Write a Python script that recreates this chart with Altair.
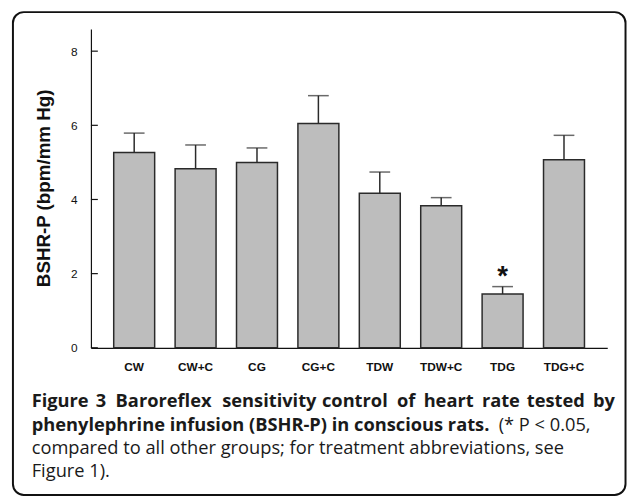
import altair as alt
import pandas as pd

groups = ["CW", "CW+C", "CG", "CG+C", "TDW", "TDW+C", "TDG", "TDG+C"]
means = [5.27, 4.83, 5.00, 6.05, 4.17, 3.83, 1.45, 5.07]
err_top = [5.79, 5.47, 5.39, 6.80, 4.74, 4.05, 1.65, 5.73]
marks = ["", "", "", "", "", "", "*", ""]
y_ticks = [0, 2, 4, 6, 8]

caption_line1_words = ["Figure", "3", "Baroreflex", "sensitivity", "control", "of",
                       "heart", "rate", "tested", "by"]
caption_line1_x = [-60, 5, 25, 133, 234, 310, 337, 396, 441.5, 508.5]
caption_line2_bold = "phenylephrine infusion (BSHR-P) in conscious rats."
caption_line2_norm = "(* P < 0.05,"
caption_line3 = "compared to all other groups; for treatment abbreviations, see"
caption_line4 = "Figure 1)."

df = pd.DataFrame({"group": groups, "mean": means, "top": err_top, "mark": marks})
ticks_df = pd.DataFrame({"v": y_ticks})
one = pd.DataFrame({"a": [0]})
words_df = pd.DataFrame({"w": caption_line1_words, "px": caption_line1_x})

W, H = 523, 323
FONT = "Liberation Sans"
CAP_FONT = "Open Sans"
CAP_SIZE = 18.5

xscale = alt.Scale(domain=groups, paddingInner=0.333, paddingOuter=0.371)
yscale = alt.Scale(domain=[0, 8.6], nice=False, zero=True)

x_enc = alt.X("group:N", scale=xscale, sort=groups,
              axis=alt.Axis(title=None, ticks=False, labelAngle=0, labelPadding=14,
                            labelFont=FONT, labelFontSize=12, labelFontWeight="bold",
                            labelColor="#111", domainColor="#111", domainWidth=1.2))
y_enc = alt.Y("mean:Q", scale=yscale,
              axis=alt.Axis(title="BSHR-P (bpm/mm Hg)", values=y_ticks, ticks=False, grid=False,
                            labelPadding=14, labelFont=FONT, labelFontSize=12, labelColor="#111",
                            domainColor="#111", domainWidth=1.2,
                            titleFont=FONT, titleFontSize=19, titleFontWeight="bold",
                            titleColor="#111", titleAngle=270, titleX=-48, titleY=161,
                            titleAlign="center", titleBaseline="middle"))

x_plain = alt.X("group:N", scale=xscale, sort=groups)

frame = alt.Chart(one).mark_rect(fill="white", fillOpacity=0, stroke="#111",
                                 strokeWidth=2, cornerRadius=11).encode(
    x=alt.value(-79), x2=alt.value(541.5), y=alt.value(-17), y2=alt.value(472))

bars = alt.Chart(df).mark_bar(color="#bdbdbd", stroke="#2a2a2a", strokeWidth=1.5).encode(
    x=x_enc, y=y_enc)

err_rule = alt.Chart(df).mark_rule(color="#2a2a2a", strokeWidth=1.5).encode(
    x=x_plain, y=alt.Y("mean:Q", scale=yscale), y2="top:Q")

err_cap = alt.Chart(df).mark_tick(color="#2a2a2a", thickness=1.5, size=21, orient="horizontal").encode(
    x=x_plain, y=alt.Y("top:Q", scale=yscale))

star = alt.Chart(df).mark_text(font=FONT, fontSize=28, fontWeight="bold", color="#111",
                               baseline="alphabetic", dy=-2).encode(
    x=x_plain, y=alt.Y("top:Q", scale=yscale), text="mark:N")

yt = alt.Chart(ticks_df).mark_rule(color="#111", strokeWidth=1.2).encode(
    y=alt.Y("v:Q", scale=yscale), x=alt.value(0), x2=alt.value(7))


def cap(txt, x, y, bold):
    return alt.Chart(one).mark_text(font=CAP_FONT, fontSize=CAP_SIZE,
                                    fontWeight="bold" if bold else "normal",
                                    color="#1a1a1a", align="left", baseline="alphabetic").encode(
        x=alt.value(x), y=alt.value(y), text=alt.value(txt))


line1 = alt.Chart(words_df).mark_text(font=CAP_FONT, fontSize=CAP_SIZE, fontWeight="bold",
                                      color="#1a1a1a", align="left", baseline="alphabetic").encode(
    x=alt.X("px:Q", scale=None), y=alt.value(383), text="w:N")

captions = [
    line1,
    cap(caption_line2_bold, -60, 407, True),
    cap(caption_line2_norm, 413, 407, False),
    cap(caption_line3, -60, 431, False),
    cap(caption_line4, -60, 454, False),
]

chart = alt.layer(frame, bars, err_rule, err_cap, star, yt, *captions).properties(
    width=W, height=H,
    background="white",
    autosize=alt.AutoSizeParams(type="none"),
    padding={"left": 84, "top": 18, "right": 20, "bottom": 152},
).configure_view(strokeWidth=0, stroke="transparent")

chart.save("out.html", embed_options={"renderer": "svg", "actions": False})
